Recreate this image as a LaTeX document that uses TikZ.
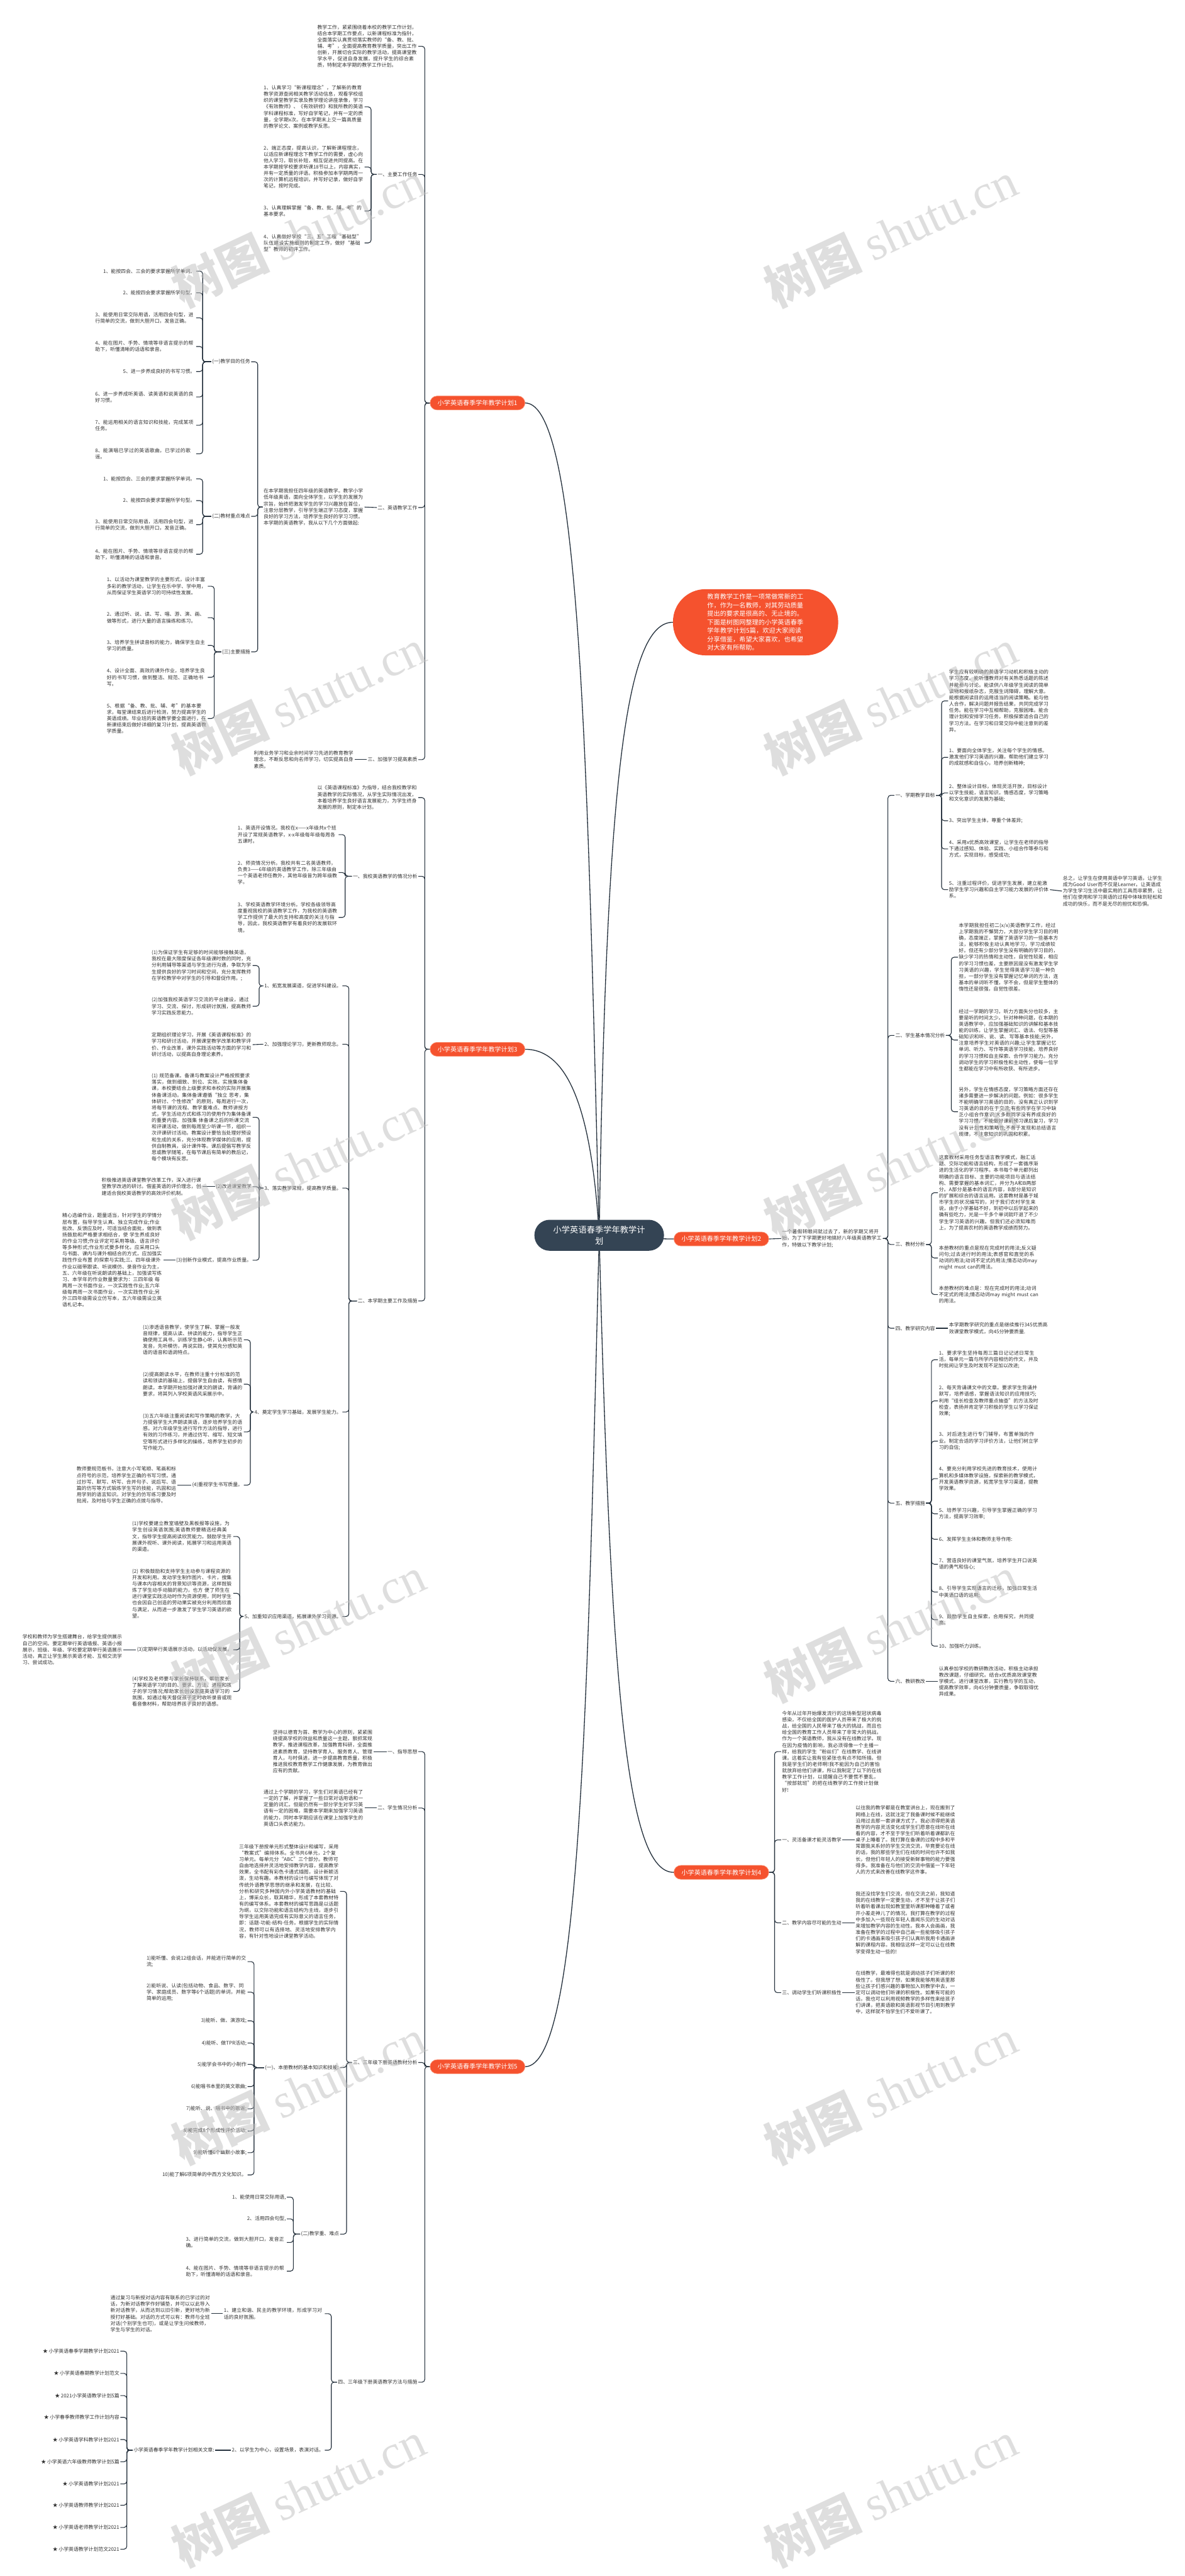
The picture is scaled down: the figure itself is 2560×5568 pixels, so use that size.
\documentclass[tikz,border=0pt]{standalone}
\usepackage{fontspec}
\setmainfont{Noto Sans CJK SC}
\newfontfamily\wmfont{Liberation Serif}
\usepackage{tikz}
\usetikzlibrary{positioning,backgrounds}
\pgfdeclarelayer{paper}
\pgfsetlayers{paper,background,main}
\XeTeXlinebreaklocale "zh"
\XeTeXlinebreakskip=0pt plus 1pt
\definecolor{rootblue}{RGB}{52,68,84}
\definecolor{planred}{RGB}{245,82,46}
\definecolor{planline}{RGB}{250,140,110}
\definecolor{ink}{RGB}{50,50,50}
\definecolor{wire}{RGB}{36,48,60}

\begin{document}
\begin{tikzpicture}[x=1pt,y=-1pt,
    root/.style={fill=rootblue,text=white,rounded corners=33pt,minimum width=280pt,
                 minimum height=67pt,text width=200pt,align=center,inner sep=0pt,
                 font=\fontsize{18pt}{24pt}\selectfont},
    plan/.style={fill=planred,draw=planline,line width=1pt,text=white,rounded corners=15pt,
                 minimum width=205pt,minimum height=30pt,inner sep=0pt,
                 font=\fontsize{13.7pt}{16pt}\selectfont},
    intro/.style={fill=planred,text=white,rounded corners=70pt,minimum width=357pt,
                  minimum height=143pt,text width=209pt,align=left,inner sep=0pt,
                  font=\fontsize{13.8pt}{18.4pt}\selectfont},
    lbl/.style={text=ink,inner sep=2pt,font=\fontsize{10.7pt}{13.8pt}\selectfont},
    txt/.style={lbl,text width=216pt,align=left},
    ll/.style={lbl,anchor=east},
    rl/.style={lbl,anchor=west},
    lt/.style={txt,anchor=east},
    rt/.style={txt,anchor=west},
    link/.style={draw=wire,line width=1.5pt,rounded corners=6pt},
    trunk/.style={draw=wire,line width=1.8pt},
    wmark/.style={text=gray!50,text opacity=0.5,rotate=25,inner sep=0pt,
                  font=\fontsize{105pt}{105pt}\selectfont}
  ]
  \useasboundingbox (0,0) rectangle (2560,5568);
  \begin{pgfonlayer}{paper}
    \fill[white] (0,0) rectangle (2560,5568);
  \end{pgfonlayer}

  % centre and main branches
  \node[root] (root) at (1295,2670) {小学英语春季学年教学计\\划};
  \node[intro] (intro) at (1633,1345) {教育教学工作是一项常做常新的工作，作为一名教师，对其劳动质量提出的要求是很高的、无止境的。下面是树图网整理的小学英语春季学年教学计划5篇，欢迎大家阅读分享借鉴，希望大家喜欢，也希望对大家有所帮助。};
  \node[plan] (pa) at (1032,871) {小学英语春季学年教学计划1};
  \node[plan] (pc) at (1032,2268) {小学英语春季学年教学计划3};
  \node[plan] (pe) at (1032,4467) {小学英语春季学年教学计划5};
  \node[plan] (pb) at (1559,2678) {小学英语春季学年教学计划2};
  \node[plan] (pd) at (1559,4047) {小学英语春季学年教学计划4};

  % plan 1
  \node[lt] (a0) at (904,100) {教学工作，紧紧围绕着本校的教学工作计划，结合本学期工作要点，以新课程标准为指针，全面落实认真贯彻落实教师的“备、教、批、辅、考”，全面提高教育教学质量，突出工作创新，开展切合实际的教学活动，提高课堂教学水平，促进自身发展，提升学生的综合素质，特制定本学期的教学工作计划。};
  \node[ll] (a1) at (904,377) {一、主要工作任务};
  \node[lt] (a11) at (788,231) {1、认真学习“新课程理念”，了解新的教育教学资源查阅相关教学活动信息，观看学校组织的课堂教学实录及教学理论讲座录像，学习《有效教师》、《有效研修》和我所教的英语学科课程标准，写好自学笔记，并有一定的质量，全学期x次。在本学期末上交一篇高质量的教学论文、案例或教学反思。};
  \node[lt] (a12) at (788,361) {2、端正态度，提高认识，了解新课程理念，以适应新课程理念下教学工作的需要，虚心向他人学习，取长补短，相互促进共同提高。在本学期按学校要求听课18节以上，内容真实，并有一定质量的评语。积极参加本学期两周一次的计算机远程培训，并写好记录，做好自学笔记，按时完成。};
  \node[lt] (a13) at (788,456) {3、认真理解掌握“备、教、批、辅、考”的基本要求。};
  \node[lt] (a14) at (788,525) {4、认真做好学校“三、五”工程“基础型”队伍建设实施细则的制定工作，做好“基础型”教师的初评工作。};
  \node[ll] (a2) at (904,1097) {二、英语教学工作};
  \node[lt] (a2t) at (788,1096) {在本学期我担任四年级的英语教学。教学小学低年级英语，面向全体学生，以学生的发展为宗旨，始终把激发学生的学习兴趣放在首位，注意分层教学，引导学生端正学习态度，掌握良好的学习方法，培养学生良好的学习习惯。本学期的英语教学，我从以下几个方面做起:};
  \node[ll] (a21) at (543,782) {(一)教学目的任务};
  \node[ll] (a211) at (424,586) {1、能按四会、三会的要求掌握所学单词。};
  \node[ll] (a212) at (424,633) {2、能按四会要求掌握所学句型。};
  \node[lt] (a213) at (424,687) {3、能使用日常交际用语，活用四会句型，进行简单的交流，做到大胆开口，发音正确。};
  \node[lt] (a214) at (424,749) {4、能在图片、手势、情境等非语言提示的帮助下，听懂清晰的话语和录音。};
  \node[ll] (a215) at (424,803) {5、进一步养成良好的书写习惯。};
  \node[lt] (a216) at (424,858) {6、进一步养成听英语、读英语和说英语的良好习惯。};
  \node[lt] (a217) at (424,919) {7、能运用相关的语言知识和技能，完成某项任务。};
  \node[lt] (a218) at (424,981) {8、能演唱已学过的英语歌曲，已学过的歌谣。};
  \node[ll] (a22) at (543,1116) {(二)教材重点难点};
  \node[ll] (a221) at (424,1035) {1、能按四会、三会的要求掌握所学单词。};
  \node[ll] (a222) at (424,1082) {2、能按四会要求掌握所学句型。};
  \node[lt] (a223) at (424,1134) {3、能使用日常交际用语，活用四会句型，进行简单的交流，做到大胆开口，发音正确。};
  \node[lt] (a224) at (424,1198) {4、能在图片、手势、情境等非语言提示的帮助下，听懂清晰的话语和录音。};
  \node[ll] (a23) at (543,1409) {(三)主要措施};
  \node[lt] (a231) at (449,1267) {1、以活动为课堂教学的主要形式，设计丰富多彩的教学活动，让学生在乐中学、学中用，从而保证学生英语学习的可持续性发展。};
  \node[lt] (a232) at (449,1335) {2、通过听、说、读、写、唱、游、演、画、做等形式，进行大量的语言操练和练习。};
  \node[lt] (a233) at (449,1395) {3、培养学生拼读音标的能力，确保学生自主学习的质量。};
  \node[lt] (a234) at (449,1464) {4、设计全面、高效的课外作业，培养学生良好的书写习惯，做到整洁、规范、正确地书写。};
  \node[lt] (a235) at (449,1553) {5、根据“备、教、批、辅、考”的基本要求，每堂课结束后进行检测，努力提高学生的英语成绩。毕业班的英语教学要全面进行，在新课结束后做好详细的复习计划，提高英语教学质量。};
  \node[ll] (a3) at (904,1642) {三、加强学习提高素质};
  \node[lt] (a3t) at (767,1642) {利用业务学习和业余时间学习先进的教育教学理念，不断反思和向名师学习，切实提高自身素质。};

  % plan 3
  \node[lt] (c0) at (904,1724) {以《英语课程标准》为指导，结合我校教学和英语教学的实际情况，从学生实际情况出发，本着培养学生良好语言发展能力，为学生终身发展的原则，制定本计划。};
  \node[ll] (c1) at (904,1894) {一、我校英语教学的情况分析};
  \node[lt] (c11) at (732,1804) {1、英语开设情况。我校在x——x年级共x个班开设了常规英语教学，x-x年级每年级每周各五课时。};
  \node[lt] (c12) at (732,1886) {2、师资情况分析。我校共有二名英语教师，负责3——6年级的英语教学工作，除三年级由一个英语老师任教外，其他年级皆为跨年级教学。};
  \node[lt] (c13) at (732,1983) {3、学校英语教学环境分析。学校各级领导高度重视我校的英语教学工作，为我校的英语教学工作提供了最大的支持和高度的关注与指导，因此，我校英语教学有着良好的发展软环境。};
  \node[ll] (c2) at (904,2812) {二、本学期主要工作及措施};
  \node[ll] (c21) at (740,2131) {1、拓宽发展渠道，促进学科建设。};
  \node[lt] (c211) at (546,2087) {(1)为保证学生有足够的时间能够接触英语，我校在最大限度保证各年级课时数的同时，充分利用辅导等渠道与学生进行沟通，争取为学生提供良好的学习时间和空间，充分发挥教师在学校教学中对学生的引导和督促作用。;};
  \node[lt] (c212) at (546,2175) {(2)加强我校英语学习交流的平台建设，通过学习、交流、探讨，形成研讨氛围，提高教师学习实践反思能力。};
  \node[ll] (c22) at (740,2257) {2、加强理论学习，更新教师观念。};
  \node[lt] (c22t) at (546,2258) {定期组织理论学习，开展《英语课程标准》的学习和研讨活动，开展课堂教学改革和教学评价、作业改革，课外实践活动等方面的学习和研讨活动，以提高自身理论素养。};
  \node[ll] (c23) at (740,2568) {3、落实教学常规，提高教学质量。};
  \node[lt] (c231) at (546,2415) {(1) 规范备课。备课与教案设计严格按照要求落实，做到细致、到位、实效。实施集体备课，本校要结合上级要求和本校的实际开展集体备课活动。集体备课遵循“独立 思考，集体研讨、个性修改”的原则，每周进行一次，将每节课的流程、教学重难点、教师讲授方式，学生活动方式和练习的使用作为集体备课的重要内容。加强集 体备课之后的听课交流和评课活动，做到每周至少听课一节，组织一次评课研讨活动。教案设计要恰当处理好预设和生成的关系，充分体现教学媒体的应用，提供自制教具，设计课件等。课后提倡写教学反思或教学随笔，在每节课后有简单的教后记，每个模块有反思。};
  \node[ll] (c232) at (546,2565) {(2)改进课堂教学};
  \node[lt] (c232t) at (438,2565) {积极推进英语课堂教学改革工作，深入进行课堂教学改进的研讨。借鉴英语的评价理念，创建适合我校英语教学的高效评价机制。};
  \node[ll] (c233) at (546,2724) {(3)创新作业模式，提高作业质量。};
  \node[lt] (c233t) at (353,2724) {精心选编作业，题量适当，针对学生的学情分层布置，指导学生认真、独立完成作业;作业批改、反馈应及时，可适当结合面批，做到表扬鼓励和严格要求相结合，使 学生养成良好的作业习惯;作业评定可采用等级、语言评价等多种形式;作业形式要多样化，应采用口头与书面、课内与课外相结合的方式，应加强实践性作业布置 的探索与实践;三、四年级课外作业以磁带跟读、听说模仿、录音作业为主，五、六年级在听说朗读的基础上，加强读写练习、本学年的作业数量要求为：三四年级 每两周一次书面作业，一次实践性作业;五六年级每两周一次书面作业，一次实践性作业;另外三四年级需设立仿写本，五六年级需设立英语札记本。};
  \node[ll] (c24) at (740,3052) {4、奠定学生学习基础，发展学生能力。};
  \node[lt] (c241) at (527,2896) {(1)渗透语音教学，使学生了解、掌握一般发音规律，提高认读、拼读的能力，指导学生正确使用工具书，训练学生静心听，认真听示范发音，先听模仿，再说实践，使其充分感知英语的语音和语调特点。};
  \node[lt] (c242) at (527,2992) {(2)提高朗读水平，在教师注重十分标准的范读和领读的基础上，提倡学生自由读，有感情朗读，本学期开始加强对课文的朗读，背诵的要求，将其列入学校英语风采展示中。};
  \node[lt] (c243) at (527,3095) {(3)五六年级注重阅读和写作策略的教学，大力提倡学生大声朗读英语，逐步培养学生的语感。对六年级学生进行写作方法的指导，进行有效的习作练习，并通过仿写、缩写、短文填空等形式进行多样化的操练，培养学生初步的写作能力。};
  \node[ll] (c244) at (527,3210) {(4)重视学生书写质量。};
  \node[lt] (c244t) at (384,3210) {教师要规范板书，注意大小写笔顺、笔画和标点符号的示范，培养学生正确的书写习惯。通过抄写、默写、听写、合并句子、说后写、语篇的仿写等方式锻炼学生写的技能，巩固和运用学到的语言知识。对学生的仿写练习要及时批阅，及时给与学生正确的点拨与指导。};
  \node[ll] (c25) at (740,3494) {5、加重知识应用渠道，拓展课外学习资源。};
  \node[lt] (c251) at (504,3321) {(1)学校要建立教室墙壁及黑板报等设施，为学生创设英语氛围;英语教师要精选经典美文，指导学生提高阅读欣赏能力。鼓励学生开展课外视听、课外阅读，拓展学习和运用英语的渠道。};
  \node[lt] (c252) at (504,3444) {(2) 积极鼓励和支持学生主动参与课程资源的开发和利用。发动学生制作图片、卡片，搜集与课本内容相关的背景知识等资源，这样既锻炼了学生动手动脑的能力，也方 便了师生在进行课堂实践活动时作为资源使用，同时学生也会因自己创造的劳动果实被充分利用而欣喜与满足，从而进一步激发了学生学习英语的欲望。};
  \node[ll] (c253) at (504,3566) {(3)定期举行英语展示活动，以活动促发展。};
  \node[lt] (c253t) at (267,3566) {学校和教师为学生搭建舞台，给学生提供展示自己的空间。要定期举行英语墙报、英语小报展示，班级、年级、学校要定期举行英语展示活动，真正让学生展示英语才能、互相交流学习、尝试成功。};
  \node[lt] (c254) at (504,3656) {(4)学校及老师要与家长保持联系，帮助家长了解英语学习的目的、要求、方法、进程和孩子的学习情况;帮助家长创设家庭英语学习的氛围，如通过每天督促孩子定时收听录音或观看音像材料，帮助培养孩子良好的语感。};

  % plan 5
  \node[ll] (e1) at (904,3786) {一、指导思想};
  \node[lt] (e1t) at (808,3786) {坚持以德育为首、教学为中心的原则，紧紧围绕提高学校的效益和质量这一主题，狠抓常规教学，推进课程改革，加强教育科研，全面推进素质教育，坚持教学育人、服务育人、管理育人，与时俱进，进一步提高教育质量，积极推进我校教育教学工作健康发展，为教育做出应有的贡献。};
  \node[ll] (e2) at (904,3908) {二、学生情况分析};
  \node[lt] (e2t) at (788,3908) {通过上个学期的学习，学生们对英语已经有了一定的了解，并掌握了一些日常对话用语和一定量的词汇。但是仍然有一部分学生对学习英语有一定的困难，需要本学期来加强学习英语的能力，同时本学期应该在课堂上加强学生的英语口头表达能力。};
  \node[ll] (e3) at (904,4458) {三、三年级下册英语教材分析};
  \node[lt] (e31) at (735,4088) {三年级下册按单元形式整体设计和编写，采用“教案式”编排体系。全书共6单元，2个复习单元。每单元分“ABC”三个部分。教师可自由地选择并灵活地安排教学内容，提高教学效果，全书配有彩色卡通式插图，设计新颖活泼，生动有趣。本教材的设计与编写体现了对传统外语教学思想的继承和发展，在比较、分析和研究多种国内外小学英语教材的基础上，博采众长，取其精华，形成了本套教材特有的编写体系。本套教材的编写思路是以话题为纲，以交际功能和语言结构为主线，逐步引导学生运用英语完成有实际意义的语言任务，即：话题-功能-结构-任务。根据学生的实际情况，教师可以有选择地、灵活地安排教学内容，有针对性地设计课堂教学活动。};
  \node[ll] (e32) at (735,4469) {(一)、本册教材的基本知识和技能:};
  \node[lt] (e321) at (535,4240) {1)能听懂、会说12组会话，并能进行简单的交流;};
  \node[lt] (e322) at (535,4306) {2)能听说、认读(包括动物、食品、数字、同学、家庭成员、数字等6个话题)的单词，并能简单的运用;};
  \node[ll] (e323) at (535,4368) {3)能听、做、演游戏;};
  \node[ll] (e324) at (535,4416) {4)能听、做TPR活动;};
  \node[ll] (e325) at (535,4462) {5)能学会书中的小制作};
  \node[ll] (e326) at (535,4510) {6)能唱书本里的英文歌曲;};
  \node[ll] (e327) at (535,4558) {7)能听、说、唱书中的歌谣;};
  \node[ll] (e328) at (535,4606) {8)能完成8个形成性评价活动;};
  \node[ll] (e329) at (535,4653) {9)能听懂6个幽默小故事;};
  \node[ll] (e3210) at (535,4701) {10)能了解6项简单的中西方文化知识。};
  \node[ll] (e33) at (735,4829) {(二)教学重、难点};
  \node[ll] (e331) at (620,4749) {1、能使用日常交际用语,};
  \node[ll] (e332) at (620,4796) {2、活用四会句型,};
  \node[lt] (e333) at (620,4847) {3、进行简单的交流，做到大胆开口，发音正确。};
  \node[lt] (e334) at (620,4909) {4、能在图片、手势、情境等非语言提示的帮助下，听懂清晰的话语和录音。};
  \node[ll] (e4) at (904,5149) {四、三年级下册英语教学方法与措施};
  \node[lt] (e41) at (702,5001) {1、建立和谐、民主的教学环境，形成学习对话的良好氛围。};
  \node[lt] (e41t) at (457,5001) {通过复习与新授对话内容有联系的已学过的对话，为新对话教学作好铺垫，并可以以此导入新对话教学，从而达到以旧引新，更好地为新授打好基础。对话的方式可以有：教师与全班对话(个别学生也可)，或是让学生问候教师，学生与学生的对话。};
  \node[ll] (e42) at (702,5296) {2、以学生为中心，设置场景，表演对话。};
  \node[ll] (e42t) at (465,5296) {小学英语春季学年教学计划相关文章:};
  \node[ll] (es1) at (260,5082) {★ 小学英语春季学期教学计划2021};
  \node[ll] (es2) at (260,5130) {★ 小学英语春期教学计划范文};
  \node[ll] (es3) at (260,5178) {★ 2021小学英语教学计划5篇};
  \node[ll] (es4) at (260,5225) {★ 小学春季教师教学工作计划内容};
  \node[ll] (es5) at (260,5273) {★ 小学英语学科教学计划2021};
  \node[ll] (es6) at (260,5321) {★ 小学英语六年级教师教学计划5篇};
  \node[ll] (es7) at (260,5369) {★ 小学英语教学计划2021};
  \node[ll] (es8) at (260,5415) {★ 小学英语教师教学计划2021};
  \node[ll] (es9) at (260,5463) {★ 小学英语老师教学计划2021};
  \node[ll] (es10) at (260,5510) {★ 小学英语教学计划范文2021};

  % plan 2
  \node[rt] (b0) at (1688,2677) {一个暑假转眼间就过去了，新的学期又将开始，为了下学期更好地搞好八年级英语教学工作，特做以下教学计划;};
  \node[rl] (b1) at (1933,1719) {一、学期教学目标};
  \node[rt] (b11) at (2049,1515) {学生应有较明确的英语学习动机和积极主动的学习态度。能听懂教师对有关熟悉话题的陈述并能参与讨论。能读供八年级学生阅读的简单读物和报纸杂志，克服生词障碍，理解大意。能根据阅读目的运用适当的阅读策略。能与他人合作，解决问题并报告结果，共同完成学习任务。能在学习中互相帮助，克服困难。能合理计划和安排学习任务，积极探索适合自己的学习方法。在学习和日常交际中能注意到的差异。};
  \node[rt] (b12) at (2049,1637) {1、要面向全体学生，关注每个学生的情感。激发他们学习英语的兴趣，帮助他们建立学习的成就感和自信心，培养创新精神;};
  \node[rt] (b13) at (2049,1714) {2、整体设计目标，体现灵活开放，目标设计以学生技能，语言知识，情感态度，学习策略和文化意识的发展为基础;};
  \node[rl] (b14) at (2049,1774) {3、突出学生主体，尊重个体差异;};
  \node[rt] (b15) at (2049,1835) {4、采用x优质高效课堂，让学生在老师的指导下通过感知、体验、实践、小组合作等参与和方式，实现目标，感受成功;};
  \node[rt] (b16) at (2049,1923) {5、注重过程评价，促进学生发展，建立能激励学生学习兴趣和自主学习能力发展的评价体系。};
  \node[rt] (b16t) at (2295,1926) {总之，让学生在使用英语中学习英语，让学生成为Good User而不仅是Learner。让英语成为学生学习生活中最实用的工具而非累赘，让他们在使用和学习英语的过程中体味到轻松和成功的快乐，而不是无尽的担忧和恐惧。};
  \node[rl] (b2) at (1933,2238) {二、学生基本情况分析};
  \node[rt] (b21) at (2070,2069) {本学期我担任初二(x/x)英语教学工作，经过上学期我的不懈努力，大部分学生学习目的明确，态度端正，掌握了英语学习的一些基本方法，能够积极主动认真地学习，学习成绩较好。但还有少部分学生没有明确的学习目的，缺少学习的热情和主动性，自觉性较差，相应的学习习惯也差，主要原因是没有激发学生学习英语的兴趣，学生觉得英语学习是一种负担，一部分学生没有掌握记忆单词的方法，连基本的单词听不懂，学不会，但是学生整体的惰性还是很强，自觉性很差。};
  \node[rt] (b22) at (2070,2248) {经过一学期的学习，听力方面失分也较多，主要是听的时间太少。针对种种问题，在本期的英语教学中，应加强基础知识的讲解和基本技能的训练，让学生掌握词汇、语法、句型等基础知识和听、说、读、写等基本技能;另外，注意培养学生对英语的兴趣;让学生掌握记忆单词、听力、写作等英语学习技能，培养良好的学习习惯和自主探索、合作学习能力。充分调动学生的学习积极性和主动性，使每一位学生都能在学习中有所收获、有所进步。};
  \node[rt] (b23) at (2070,2403) {另外，学生在情感态度，学习策略方面还存在诸多需要进一步解决的问题。例如：很多学生不能明确学习英语的目的，没有真正认识到学习英语的目的在于交流;有些同学在学习中缺乏小组合作意识;大多数同学没有养成良好的学习习惯，不能做好课前预习课后复习，学习没有计划性和策略性;不善于发现和总结语言规律，不注意知识的巩固和积累。};
  \node[rl] (b3) at (1933,2690) {三、教材分析};
  \node[rt] (b31) at (2027,2578) {这套教材采用任务型语言教学模式，融汇话题、交际功能和语言结构，形成了一套循序渐进的生活化的学习程序。本书每个单元都列出明确的语言目标、主要的功能项目与语法结构、需要掌握的基本词汇，并分为A和B两部分。A部分是基本的语言内容，B部分是知识的扩展和综合的语言运用。这套教材是基于城市学生的状况编写的，对于我们农村学生来说，由于小学基础不好，到初中以后学起来的确有些吃力，光是一千多个单词就吓退了不少学生学习英语的兴趣。但我们还必须知难而上，为了提高农村的英语教学成绩而努力。};
  \node[rt] (b32) at (2027,2719) {本册教材的重点是现在完成时的用法;反义疑问句;过去进行时的用法;表感官和直觉的系动词的用法;动词不定式的用法;情态动词may might must can的用法。};
  \node[rt] (b33) at (2027,2798) {本册教材的难点是：现在完成时的用法;动词不定式的用法;情态动词may might must can的用法。};
  \node[rl] (b4) at (1933,2871) {四、教学研究内容};
  \node[rt] (b4t) at (2049,2871) {本学期教学研究的重点是继续推行345优质高效课堂教学模式，向45分钟要质量.};
  \node[rl] (b5) at (1933,3249) {五、教学措施};
  \node[rt] (b51) at (2027,2939) {1、要求学生坚持每周三篇日记记述日常生活，每单元一篇与所学内容相仿的作文，并及时批阅让学生及时发现不足加以改进;};
  \node[rt] (b52) at (2027,3028) {2、每天背诵课文中的文章。要求学生背诵并默写，培养语感，掌握语法知识的应用技巧;利用“组长检查及教师重点抽查”的方法及时检查，表扬并肯定学习积极的学生以学习保证效果;};
  \node[rt] (b53) at (2027,3115) {3、对后进生进行专门辅导，布置单独的作业。制定合适的学习评价方法，让他们树立学习的自信;};
  \node[rt] (b54) at (2027,3196) {4、要充分利用学校先进的教育技术，使用计算机和多媒体教学设施，探索新的教学模式，开发英语教学资源，拓宽学生学习渠道，提教学效果。};
  \node[rt] (b55) at (2027,3272) {5、培养学习兴趣，引导学生掌握正确的学习方法，提高学习效率;};
  \node[rl] (b56) at (2027,3327) {6、发挥学生主体和教师主导作用:};
  \node[rt] (b57) at (2027,3381) {7、营造良好的课堂气氛，培养学生开口说英语的勇气和信心;};
  \node[rt] (b58) at (2027,3441) {8、引导学生实现语言的迁移，加强日常生活中英语口语的运用;};
  \node[rt] (b59) at (2027,3501) {9、鼓励学生自主探索，合用探究，共同提高。};
  \node[rl] (b510) at (2027,3558) {10、加强听力训练。};
  \node[rl] (b6) at (1933,3634) {六、教研教改};
  \node[rt] (b6t) at (2027,3634) {认真参加学校的教研教改活动，积极主动承担教改课题，仔细研究。结合x优质高效课堂教学模式，进行课堂改革，实行教与学的互动，提高教学效率，向45分钟要质量，争取取得优异成果。};

  % plan 4
  \node[rt] (d0) at (1688,3786) {今年从过年开始爆发流行的这场新型冠状病毒感染，不仅给全国的医护人员带来了极大的挑战，给全国的人民带来了极大的挑战，而且也给全国的教育工作人员带来了非常大的挑战。作为一个英语教师，我从没有在线教过学。现在因为疫情的影响，我必须得像一个主播一样，给我的学生“粉丝们”在线教学、在线讲课。这着实让我有些紧张也有点不知所措。但我是学生们的老师啊!我不能因为自己的害怕就放弃给他们讲课，所以我制定了以下的在线教学工作计划，以提醒自己不要慌不要乱，“按部就班”的把在线教学的工作按计划做好!};
  \node[rl] (d1) at (1688,3977) {一、灵活备课才能灵活教学};
  \node[rt] (d1t) at (1847,3977) {以往我的教学都是在教室讲台上，现在搬到了网络上在线，这就注定了我备课时候不能继续沿用过去那一套讲课方式了。我必须得把英语教学的内容灵活变化成学生们愿意在线听在线看的内容，才不至于学生们听着听着课都趴在桌子上睡着了。我打算在备课的过程中多和平常跟我关系好的学生交流交流，毕竟要论在线的话，我的那些学生们在线的时间也许不如我长，但他们年轻人的接受新鲜事物的能力要强得多。我准备在与他们的交流中借鉴一下年轻人的方式来改善在线教学这件事。};
  \node[rl] (d2) at (1688,4156) {二、教学内容尽可能的生动};
  \node[rt] (d2t) at (1847,4156) {我还没找学生们交流，但在交流之前，我知道我的在线教学一定要生动，才不至于让孩子们听着听着课出现如教室里听课那种睡着了或者开小差走神儿了的情况。我打算在教学的过程中多加入一些现在年轻人喜闻乐见的生动对话来增加教学内容的生动性。我本人会画画，我准备在教学的过程中自己画一些能够吸引孩子们的卡通画来吸引孩子们认真听我用卡通画讲解的课程内容。我相信这样一定可以让在线教学变得生动一些的!};
  \node[rl] (d3) at (1688,4307) {三、调动学生们听课积极性};
  \node[rt] (d3t) at (1847,4307) {在线教学，最难得也就是调动孩子们听课的积极性了。但我想了想，如果我能够用英语里那些让孩子们感兴趣的事物加入到教学中去，一定可以调动他们听课的积极性。如果有可能的话，我也可以利用视频教学的多样性来给孩子们讲课，把英语歌和英语影视节目引用到教学中，这样就不怕学生们不爱听课了。};

  \begin{scope}[on background layer]
    % trunk curves
    \draw[trunk] (pa.east) .. controls +(120,0) and +(-25,-1000) .. (root.center);
    \draw[trunk] (pc.east) .. controls +(100,0) and +(-15,-250) .. (root.center);
    \draw[trunk] (pe.east) .. controls +(120,0) and +(-25,1000) .. (root.center);
    \draw[trunk] (pb.west) .. controls +(-60,0) and +(60,0) .. (root.center);
    \draw[trunk] (pd.west) .. controls +(-100,0) and +(25,1000) .. (root.center);
    \draw[trunk] (intro.west) .. controls +(-100,0) and +(15,-1000) .. (root.center);
    % left branches
    \foreach \c in {a0,a1,a2,a3} \draw[link] (\c.east) -- ++(14,0) |- (pa.west);
    \foreach \i in {1,...,4} \draw[link] (a1\i.east) -- ++(14,0) |- (a1.west);
    \draw[link] (a2t.east) -- (a2.west);
    \foreach \c in {a21,a22,a23} \draw[link] (\c.east) -- ++(14,0) |- (a2t.west);
    \foreach \i in {1,...,8} \draw[link] (a21\i.east) -- ++(14,0) |- (a21.west);
    \foreach \i in {1,...,4} \draw[link] (a22\i.east) -- ++(14,0) |- (a22.west);
    \foreach \i in {1,...,5} \draw[link] (a23\i.east) -- ++(14,0) |- (a23.west);
    \draw[link] (a3t.east) -- (a3.west);
    \foreach \c in {c0,c1,c2} \draw[link] (\c.east) -- ++(14,0) |- (pc.west);
    \foreach \i in {1,...,3} \draw[link] (c1\i.east) -- ++(14,0) |- (c1.west);
    \foreach \c in {c21,c22,c23,c24,c25} \draw[link] (\c.east) -- ++(14,0) |- (c2.west);
    \foreach \i in {1,2} \draw[link] (c21\i.east) -- ++(14,0) |- (c21.west);
    \draw[link] (c22t.east) -- (c22.west);
    \foreach \i in {1,...,3} \draw[link] (c23\i.east) -- ++(14,0) |- (c23.west);
    \draw[link] (c232t.east) -- (c232.west);
    \draw[link] (c233t.east) -- (c233.west);
    \foreach \i in {1,...,4} \draw[link] (c24\i.east) -- ++(14,0) |- (c24.west);
    \draw[link] (c244t.east) -- (c244.west);
    \foreach \i in {1,...,4} \draw[link] (c25\i.east) -- ++(14,0) |- (c25.west);
    \draw[link] (c253t.east) -- (c253.west);
    \foreach \c in {e1,e2,e3,e4} \draw[link] (\c.east) -- ++(14,0) |- (pe.west);
    \draw[link] (e1t.east) -- (e1.west);
    \draw[link] (e2t.east) -- (e2.west);
    \foreach \c in {e31,e32,e33} \draw[link] (\c.east) -- ++(14,0) |- (e3.west);
    \foreach \i in {1,...,10} \draw[link] (e32\i.east) -- ++(14,0) |- (e32.west);
    \foreach \i in {1,...,4} \draw[link] (e33\i.east) -- ++(14,0) |- (e33.west);
    \foreach \c in {e41,e42} \draw[link] (\c.east) -- ++(14,0) |- (e4.west);
    \draw[link] (e41t.east) -- (e41.west);
    \draw[link] (e42t.east) -- (e42.west);
    \foreach \i in {1,...,10} \draw[link] (es\i.east) -- ++(14,0) |- (e42t.west);
    % right branches
    \draw[link] (b0.west) -- (pb.east);
    \foreach \i in {1,...,6} \draw[link] (b\i.west) -- ++(-14,0) |- (b0.east);
    \foreach \i in {1,...,6} \draw[link] (b1\i.west) -- ++(-14,0) |- (b1.east);
    \draw[link] (b16t.west) -- (b16.east);
    \foreach \i in {1,...,3} \draw[link] (b2\i.west) -- ++(-14,0) |- (b2.east);
    \foreach \i in {1,...,3} \draw[link] (b3\i.west) -- ++(-14,0) |- (b3.east);
    \draw[link] (b4t.west) -- (b4.east);
    \foreach \i in {1,...,10} \draw[link] (b5\i.west) -- ++(-14,0) |- (b5.east);
    \draw[link] (b6t.west) -- (b6.east);
    \foreach \c in {d0,d1,d2,d3} \draw[link] (\c.west) -- ++(-14,0) |- (pd.east);
    \draw[link] (d1t.west) -- (d1.east);
    \draw[link] (d2t.west) -- (d2.east);
    \draw[link] (d3t.west) -- (d3.east);
  \end{scope}

  % watermarks
  \foreach \y [count=\k] in {505,1515,2520,3520,4520,5390} {
    \node[wmark] (wl\k) at (645,\y) {{\bfseries 树图} {\wmfont shutu.cn}};
    \node[wmark] (wr\k) at (1925,\y) {{\bfseries 树图} {\wmfont shutu.cn}};
  }
\end{tikzpicture}
\end{document}
